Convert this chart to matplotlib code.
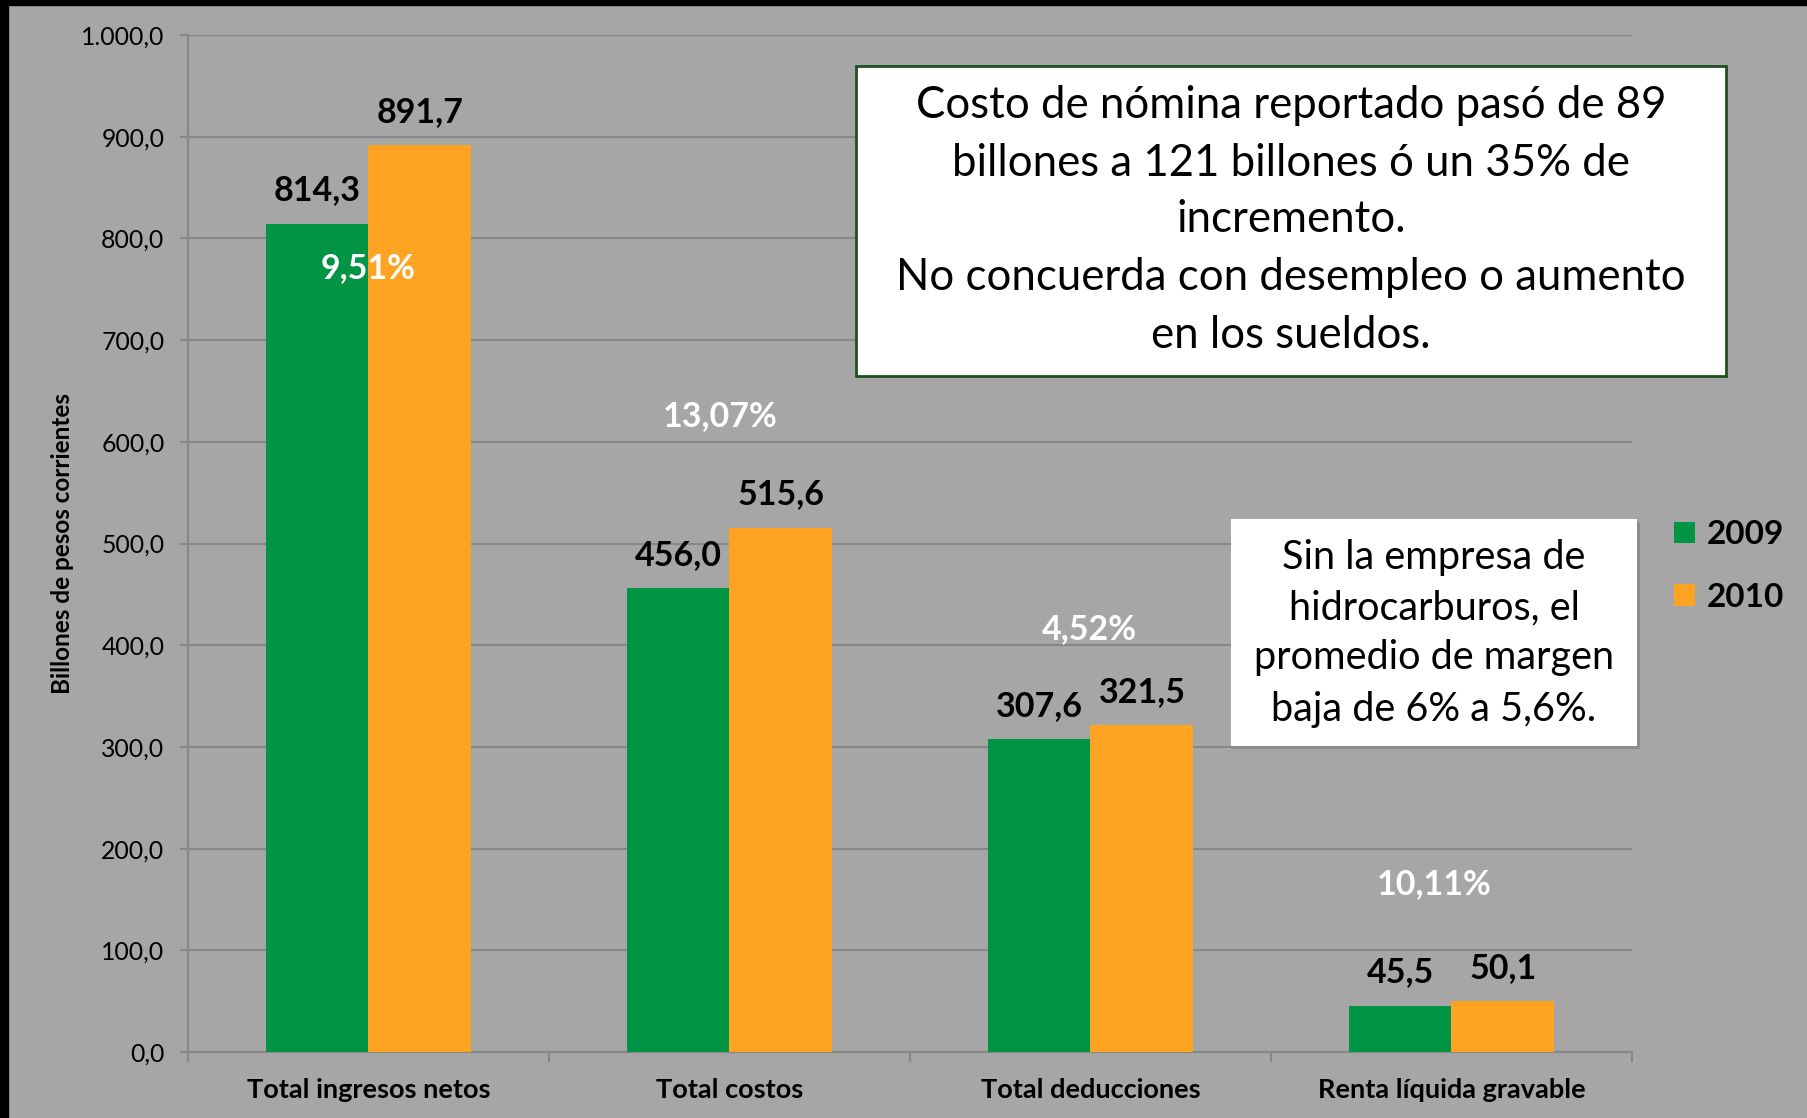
import matplotlib
matplotlib.use("Agg")
import matplotlib.pyplot as plt
from matplotlib.patches import Rectangle
from matplotlib.ticker import FuncFormatter, FixedLocator
import numpy as np

categories = ["Total ingresos netos", "Total costos", "Total deducciones", "Renta líquida gravable"]
series_names = ["2009", "2010"]
values_2009 = [814.3, 456.0, 307.6, 45.5]
values_2010 = [891.7, 515.6, 321.5, 50.1]
pct_labels = ["9,51%", "13,07%", "4,52%", "10,11%"]
yticks = [0, 100, 200, 300, 400, 500, 600, 700, 800, 900, 1000]
note1_lines = ["Costo de nómina reportado pasó de 89",
               "billones a 121 billones ó un 35% de",
               "incremento.",
               "No concuerda con desempleo o aumento",
               "en los sueldos."]
note2_lines = ["Sin la empresa de", "hidrocarburos, el", "promedio de margen", "baja de 6% a 5,6%."]

# layout positions of the percentage labels (data coords)
pct_x_pos = [0.0, 0.974, 1.997, 2.952]
pct_y_pos = [771, 625, 416, 165]

W, H = 1808, 1118
BG = "#A6A6A6"
GRID = "#878787"
GREEN = "#009444"
ORANGE = "#FFA322"
FONT = "Lato"

fig = plt.figure(figsize=(W / 100, H / 100), dpi=100, facecolor=BG)

def fx(px):
    return px / W

def fy(py):
    return 1 - py / H

# black frame strips
fig.patches.append(Rectangle((0, fy(5)), 1, 5 / H, transform=fig.transFigure, color="black", zorder=0))
fig.patches.append(Rectangle((0, 0), fx(8), 1, transform=fig.transFigure, color="black", zorder=0))

ax = fig.add_axes([fx(188), fy(1052), fx(1632) - fx(188), fy(35) - fy(1052)])
ax.set_facecolor(BG)

x = np.arange(len(categories))
bw = 0.285
b1 = ax.bar(x - bw / 2, values_2009, bw, color=GREEN, label=series_names[0], zorder=3)
b2 = ax.bar(x + bw / 2, values_2010, bw, color=ORANGE, label=series_names[1], zorder=3)

ax.set_xlim(-0.5, len(categories) - 0.5)
ax.set_ylim(0, 1000)
ax.yaxis.set_major_locator(FixedLocator(yticks))

def fmt(v, pos):
    s = f"{v:,.1f}"
    return s.replace(",", "X").replace(".", ",").replace("X", ".")

ax.yaxis.set_major_formatter(FuncFormatter(fmt))
ax.grid(axis="y", color=GRID, linewidth=1.5, zorder=0)
for s in ["top", "right"]:
    ax.spines[s].set_visible(False)
for s in ["left", "bottom"]:
    ax.spines[s].set_color(GRID)
    ax.spines[s].set_linewidth(1.5)

ax.set_xticks(np.arange(-0.5, len(categories), 1.0))
ax.set_xticklabels([])
ax.set_xticks(x, minor=True)
ax.set_xticklabels(categories, minor=True, fontfamily=FONT, fontweight="bold", fontsize=19.5)
ax.tick_params(axis="x", which="major", length=7, width=1.5, color=GRID)
ax.tick_params(axis="x", which="minor", length=0, pad=19)
ax.tick_params(axis="y", length=6, width=1.5, color=GRID, labelsize=17.8, pad=11)
for lab in ax.get_yticklabels():
    lab.set_fontfamily(FONT)

ax.set_ylabel("Billones de pesos corrientes", fontfamily=FONT, fontweight="bold", fontsize=17.5, labelpad=5)

# data labels
for bars, vals in ((b1, values_2009), (b2, values_2010)):
    for rect, v in zip(bars, vals):
        ax.annotate(f"{v:.1f}".replace(".", ","), (rect.get_x() + rect.get_width() / 2, v),
                    xytext=(0, 24), textcoords="offset points", ha="center", va="center",
                    fontfamily=FONT, fontweight="bold", fontsize=24.5, color="black", zorder=5)

for xp, lab, yp in zip(pct_x_pos, pct_labels, pct_y_pos):
    ax.text(xp, yp, lab, ha="center", va="center", fontfamily=FONT, fontweight="bold",
            fontsize=24.5, color="white", zorder=6)

# legend
leg = fig.legend(handles=[b1, b2], labels=series_names, loc="center left",
                 bbox_to_anchor=(fx(1644), fy(566)), frameon=False,
                 prop={"family": FONT, "weight": "bold", "size": 24},
                 handlelength=0.62, handleheight=0.62, handletextpad=0.35, labelspacing=1.0)

# note box 1
fig.patches.append(Rectangle((fx(856), fy(376)), fx(1726) - fx(856), (376 - 66) / H,
                             transform=fig.transFigure, facecolor="white", edgecolor="#1F4E1F",
                             linewidth=2, zorder=10))
for line, py in zip(note1_lines, [106, 163, 219, 278, 336]):
    fig.text(fx(1291), fy(py), line, ha="center", va="center", fontfamily=FONT,
             fontsize=31.5, color="black", zorder=11)

# note box 2 with slight shadow
fig.patches.append(Rectangle((fx(1234), fy(749)), fx(1637) - fx(1231), (746 - 519) / H,
                             transform=fig.transFigure, facecolor="#8C8C8C", edgecolor="none", zorder=9))
fig.patches.append(Rectangle((fx(1231), fy(746)), fx(1637) - fx(1231), (746 - 519) / H,
                             transform=fig.transFigure, facecolor="white", edgecolor="none", zorder=10))
for line, py in zip(note2_lines, [557, 608, 658, 709]):
    fig.text(fx(1434), fy(py), line, ha="center", va="center", fontfamily=FONT,
             fontsize=28.5, color="black", zorder=11)

fig.savefig("out.png", dpi=100, facecolor=BG)
